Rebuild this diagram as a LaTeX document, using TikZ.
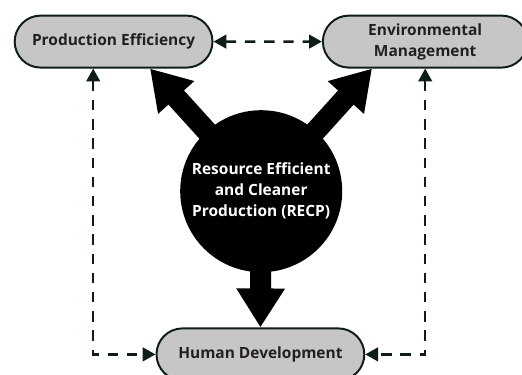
\documentclass[tikz,border=0pt]{standalone}
\usepackage{fontspec}
\setsansfont{Open Sans}
\usetikzlibrary{shapes.misc,arrows.meta,backgrounds}
\definecolor{boxgray}{HTML}{C6C6C6}
\definecolor{inkdark}{HTML}{0F1D1A}
\definecolor{txtdark}{HTML}{231F20}
\begin{document}
\begin{tikzpicture}[
  box/.style={draw=inkdark,line width=1.4pt,fill=boxgray,rounded rectangle,minimum height=1.3cm,
    text=txtdark,font=\sffamily\bfseries\fontsize{11}{15}\selectfont,align=center},
  link/.style={draw=inkdark,line width=1.7pt,dash pattern=on 0.26cm off 0.22cm,
    {Triangle[length=0.32cm,width=0.34cm]}-{Triangle[length=0.32cm,width=0.34cm]}},
  bigarrow/.style={line width=0.525cm,-{Triangle[length=0.975cm,width=1.15cm]}}
]
\useasboundingbox (0,0) rectangle (13.05,-9.35);
\node[box,minimum width=5.18cm] (pe) at (2.84,-1.04) {Production Efficiency};
\node[box,minimum width=5.35cm] (em) at (10.63,-1.04) {Environmental\\Management};
\node[box,minimum width=5.43cm] (hd) at (6.51,-8.86) {Human Development};
\node[circle,fill=black,minimum size=4.05cm,text=white,align=center,
  font=\sffamily\bfseries\fontsize{11}{15}\selectfont] (recp) at (6.53,-4.78)
  {Resource Efficient\\and Cleaner\\Production (RECP)};

\begin{scope}[on background layer]
\draw[bigarrow] (recp.center) -- ([xshift=0.91cm]pe.south);
\draw[bigarrow] (recp.center) -- ([xshift=-1.33cm]em.south);
\draw[bigarrow] (recp.center) -- (hd.north);
\end{scope}

\draw[link] (pe) -- (em);
\draw[link] ([xshift=-0.51cm]pe.south) |- (hd.west);
\draw[link] (em.south) |- (hd.east);
\end{tikzpicture}
\end{document}
